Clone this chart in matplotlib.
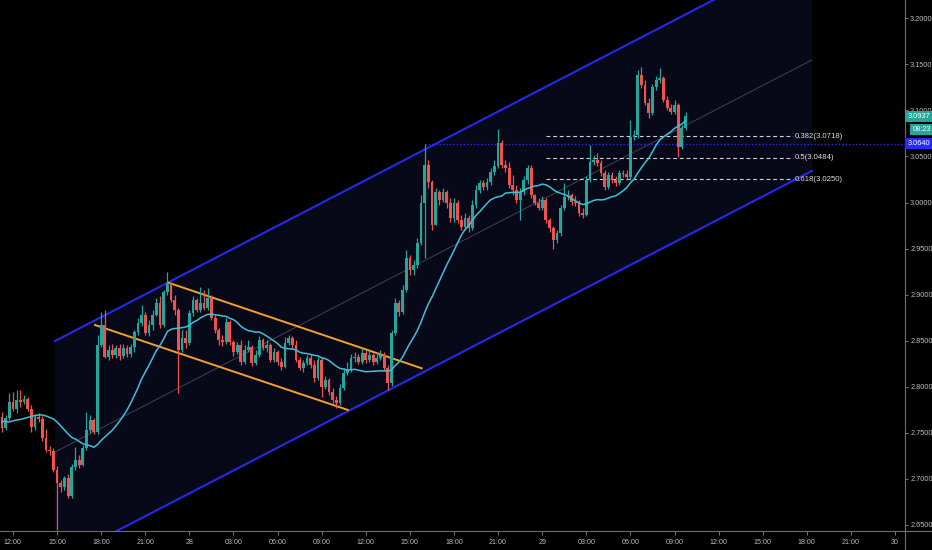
import numpy as np
import pandas as pd
import matplotlib
matplotlib.use("Agg")
import matplotlib.pyplot as plt
import matplotlib.transforms as mtransforms
from matplotlib.lines import Line2D
from matplotlib.ticker import FixedLocator, FuncFormatter

plt.rcParams['font.family'] = ['Liberation Sans Narrow', 'Liberation Sans', 'DejaVu Sans']

# ---------------- data (15-minute candles, hours counted from day 27 00:00) ----------------
bar_start_hour = 11.25
bar_step_hours = 0.25
first_open = 2.7671

closes = [
    2.7552, 2.7660, 2.7834, 2.7758, 2.7856, 2.7834, 2.7866, 2.7758, 2.7563, 2.7671,
    2.7650, 2.7443, 2.7313, 2.7302, 2.7096, 2.6955, 2.6911, 2.7009, 2.6813, 2.7128,
    2.7204, 2.7150, 2.7335, 2.7530, 2.7639, 2.7508, 2.8453, 2.8670, 2.8323, 2.8399,
    2.8344, 2.8421, 2.8334, 2.8421, 2.8355, 2.8431, 2.8594, 2.8692, 2.8779, 2.8583,
    2.8670, 2.8779, 2.8909, 2.8670, 2.9028, 2.9126, 2.8942, 2.8833, 2.8399, 2.8529,
    2.8475, 2.8800, 2.8942, 2.8833, 2.8909, 2.8855, 2.8963, 2.8746, 2.8616, 2.8507,
    2.8485, 2.8703, 2.8485, 2.8377, 2.8453, 2.8268, 2.8399, 2.8431, 2.8257, 2.8344,
    2.8507, 2.8421, 2.8453, 2.8290, 2.8377, 2.8268, 2.8214, 2.8475, 2.8529, 2.8453,
    2.8290, 2.8203, 2.8257, 2.8312, 2.8236, 2.8095, 2.8290, 2.7997, 2.8073, 2.7943,
    2.7856, 2.7823, 2.7986, 2.8149, 2.8181, 2.8312, 2.8323, 2.8268, 2.8366, 2.8290,
    2.8344, 2.8268, 2.8312, 2.8344, 2.8203, 2.8040, 2.8583, 2.8909, 2.8811, 2.9050,
    2.9398, 2.9267, 2.9322, 2.9561, 2.9995, 3.0407, 3.0223, 2.9756, 3.0114, 3.0027,
    3.0114, 2.9995, 2.9832, 2.9995, 2.9810, 2.9734, 2.9832, 2.9723, 2.9973, 3.0136,
    3.0212, 3.0169, 3.0223, 3.0331, 3.0397, 3.0646, 3.0407, 3.0375, 3.0190, 3.0136,
    3.0027, 3.0114, 3.0245, 3.0375, 3.0082, 2.9995, 2.9941, 3.0027, 2.9810, 2.9723,
    2.9593, 2.9669, 2.9941, 3.0060, 3.0082, 3.0006, 2.9995, 2.9886, 2.9865, 3.0245,
    3.0440, 3.0462, 3.0429, 3.0321, 3.0169, 3.0299, 3.0245, 3.0212, 3.0321, 3.0310,
    3.0277, 3.0712, 3.0733, 3.1385, 3.1276, 3.1081, 3.0972, 3.1254, 3.1330, 3.1352,
    3.1113, 3.1026, 3.0983, 3.1059, 3.0603, 3.0809, 3.0937,
]

highs = [
    2.7726, 2.7693, 2.7932, 2.7943, 2.7964, 2.7964, 2.7910, 2.7888, 2.7801, 2.7704,
    2.7715, 2.7682, 2.7541, 2.7357, 2.7335, 2.7139, 2.6987, 2.7031, 2.7052, 2.7161,
    2.7346, 2.7259, 2.7367, 2.7726, 2.7693, 2.7660, 2.8562, 2.8811, 2.8833, 2.8453,
    2.8464, 2.8453, 2.8464, 2.8464, 2.8453, 2.8464, 2.8616, 2.8746, 2.8887, 2.8811,
    2.8724, 2.8833, 2.8963, 2.8985, 2.9050, 2.9246, 2.9137, 2.8996, 2.8855, 2.8616,
    2.8616, 2.8833, 2.8985, 2.8963, 2.9083, 2.9050, 2.9072, 2.8996, 2.8779, 2.8638,
    2.8562, 2.8746, 2.8724, 2.8507, 2.8485, 2.8507, 2.8453, 2.8507, 2.8453, 2.8399,
    2.8551, 2.8529, 2.8507, 2.8475, 2.8421, 2.8399, 2.8312, 2.8540, 2.8562, 2.8551,
    2.8507, 2.8323, 2.8290, 2.8344, 2.8344, 2.8290, 2.8323, 2.8312, 2.8116, 2.8095,
    2.7986, 2.7899, 2.8030, 2.8203, 2.8268, 2.8355, 2.8377, 2.8355, 2.8421, 2.8399,
    2.8399, 2.8366, 2.8377, 2.8399, 2.8377, 2.8236, 2.8616, 2.8963, 2.8942, 2.9104,
    2.9484, 2.9430, 2.9376, 2.9615, 3.0082, 3.0640, 3.0462, 3.0245, 3.0158, 3.0136,
    3.0158, 3.0136, 3.0049, 3.0049, 3.0027, 2.9865, 2.9886, 2.9865, 3.0027, 3.0190,
    3.0245, 3.0245, 3.0266, 3.0375, 3.0462, 3.0798, 3.0679, 3.0462, 3.0440, 3.0299,
    3.0190, 3.0158, 3.0288, 3.0407, 3.0407, 3.0093, 3.0049, 3.0071, 3.0049, 2.9832,
    2.9745, 2.9702, 2.9973, 3.0212, 3.0136, 3.0103, 3.0071, 3.0027, 2.9941, 3.0288,
    3.0625, 3.0516, 3.0538, 3.0462, 3.0353, 3.0331, 3.0331, 3.0288, 3.0353, 3.0353,
    3.0353, 3.0896, 3.0787, 3.1439, 3.1475, 3.1330, 3.1135, 3.1287, 3.1374, 3.1461,
    3.1374, 3.1157, 3.1070, 3.1113, 3.1081, 3.0842, 3.0983,
]

lows = [
    2.7508, 2.7530, 2.7639, 2.7736, 2.7715, 2.7780, 2.7812, 2.7736, 2.7508, 2.7530,
    2.7617, 2.7411, 2.7291, 2.7259, 2.7074, 2.6444, 2.6857, 2.6879, 2.6792, 2.6792,
    2.7096, 2.7117, 2.7139, 2.7313, 2.7497, 2.7487, 2.7487, 2.8431, 2.8312, 2.8290,
    2.8312, 2.8312, 2.8290, 2.8312, 2.8323, 2.8323, 2.8377, 2.8562, 2.8659, 2.8562,
    2.8551, 2.8616, 2.8768, 2.8638, 2.8648, 2.8996, 2.8920, 2.8779, 2.7932, 2.8377,
    2.8421, 2.8453, 2.8768, 2.8811, 2.8811, 2.8833, 2.8833, 2.8724, 2.8583, 2.8453,
    2.8442, 2.8464, 2.8453, 2.8334, 2.8355, 2.8236, 2.8247, 2.8377, 2.8225, 2.8236,
    2.8323, 2.8399, 2.8377, 2.8268, 2.8268, 2.8236, 2.8181, 2.8203, 2.8453, 2.8421,
    2.8268, 2.8181, 2.8160, 2.8236, 2.8203, 2.8051, 2.8073, 2.7888, 2.7975, 2.7910,
    2.7823, 2.7769, 2.7801, 2.7964, 2.8127, 2.8160, 2.8268, 2.8247, 2.8247, 2.8257,
    2.8268, 2.8236, 2.8247, 2.8290, 2.8181, 2.7964, 2.8008, 2.8562, 2.8768, 2.8790,
    2.9028, 2.9213, 2.9213, 2.9289, 2.9539, 2.9398, 3.0158, 2.9702, 2.9756, 2.9973,
    3.0006, 2.9941, 2.9789, 2.9789, 2.9778, 2.9702, 2.9702, 2.9680, 2.9702, 2.9941,
    3.0103, 3.0136, 3.0136, 3.0190, 3.0299, 3.0375, 3.0375, 3.0331, 3.0158, 3.0082,
    2.9995, 2.9810, 3.0082, 3.0201, 3.0049, 2.9973, 2.9919, 2.9919, 2.9778, 2.9680,
    2.9492, 2.9561, 2.9637, 2.9919, 3.0027, 2.9973, 2.9962, 2.9854, 2.9832, 2.9854,
    3.0223, 3.0407, 3.0397, 3.0288, 3.0136, 3.0147, 3.0212, 3.0179, 3.0190, 3.0277,
    3.0245, 3.0245, 3.0679, 3.0701, 3.1244, 3.1059, 3.0918, 3.0950, 3.1222, 3.1298,
    3.1091, 3.1005, 3.0961, 3.0961, 3.0494, 3.0581, 3.0787,
]

# 20-period moving average values for the first 19 bars (history before the window)
ma_head = [2.7622, 2.7622, 2.7617, 2.7628, 2.7639, 2.7644, 2.7655, 2.7666, 2.7677, 2.7687,
           2.7693, 2.7693, 2.7682, 2.7666, 2.7650, 2.7617, 2.7574, 2.7530, 2.7487]
ma_period = 20

# drawing-tool anchors (hour, price)
channel_t = [14.857, 66.35]
channel_upper = [2.8496, 3.2753]
channel_lower = [2.6086, 3.0343]
orange_upper_t = [22.544, 39.80]
orange_upper_p = [2.9131, 2.8200]
orange_lower_t = [17.578, 34.789]
orange_lower_p = [2.8670, 2.7747]
fib_t = [48.26, 65.06]
fib_ratios = ["0.382", "0.5", "0.618"]
fib_prices = [3.0718, 3.0484, 3.0250]
hline_price = 3.0640
hline_start = 40.03
countdown = "08:23"

tick_hours = [12, 15, 18, 21, 24, 27, 30, 33, 36, 39, 42, 45, 48, 51, 54, 57, 60, 63, 66, 69, 72]
tick_labels = ["12:00", "15:00", "18:00", "21:00", "28", "03:00", "06:00", "09:00", "12:00",
               "15:00", "18:00", "21:00", "29", "03:00", "06:00", "09:00", "12:00", "15:00",
               "18:00", "21:00", "30"]
price_ticks = [2.65, 2.70, 2.75, 2.80, 2.85, 2.90, 2.95, 3.00, 3.05, 3.10, 3.15, 3.20]

# ---------------- derived ----------------
n = len(closes)
t = bar_start_hour + bar_step_hours * np.arange(n)
c = np.array(closes)
h = np.array(highs)
l = np.array(lows)
o = np.concatenate([[first_open], c[:-1]])
ma = pd.Series(c).rolling(ma_period).mean().to_numpy()
ma[:ma_period - 1] = ma_head
channel_mid = [(a + b) / 2 for a, b in zip(channel_upper, channel_lower)]

UP = '#26a69a'
DOWN = '#ef5350'
BG = '#000000'
TXT = '#bdbdbd'
YFS = 5.3
XFS = 5.1

W, H = 932, 550
fig = plt.figure(figsize=(W / 100, H / 100), dpi=100, facecolor=BG)
ax = fig.add_axes([0, 19 / H, 905 / W, 531 / H], facecolor=BG)
ax.set_xlim(11.116, 72.68)
ax.set_ylim(2.6433, 3.2199)

# regression-like channel
ax.fill_between(channel_t, channel_lower, channel_upper, color='#070818', lw=0, zorder=0)
ax.plot(channel_t, channel_upper, color='#2828ea', lw=1.5, zorder=2)
ax.plot(channel_t, channel_lower, color='#2828ea', lw=1.5, zorder=2)
ax.plot(channel_t, channel_mid, color='#4a4a5c', lw=0.6, zorder=1)

# orange descending channel
ax.plot(orange_upper_t, orange_upper_p, color='#f5a032', lw=1.4, zorder=2)
ax.plot(orange_lower_t, orange_lower_p, color='#f5a032', lw=1.4, zorder=2)

# fib levels
for r, p in zip(fib_ratios, fib_prices):
    ax.hlines(p, fib_t[0], fib_t[1], colors='#d0d0d0', linestyles=(0, (3.5, 2.5)), lw=0.8, zorder=2)
    ax.text(fib_t[1] + 0.15, p, f"{r}({p:.4f})", color='#dcdcdc', fontsize=5.6,
            va='center', ha='left', zorder=6)

# horizontal dotted line
ax.hlines(hline_price, hline_start, 72.68, colors='#2a2aff', linestyles=(0, (1, 1.5)), lw=1.0, zorder=2)

# candles
colors = np.where(c >= o, UP, DOWN)
ax.vlines(t, l, h, colors=colors, lw=0.9, zorder=3)
body_bottom = np.minimum(o, c)
body_h = np.maximum(np.abs(c - o), 0.0009)
ax.bar(t, body_h, bottom=body_bottom, width=0.19, color=colors, linewidth=0, zorder=4)

# moving average
ax.plot(t, ma, color='#3ec2d6', lw=1.1, zorder=5)

# axes styling
for s in ['left', 'top']:
    ax.spines[s].set_visible(False)
for s in ['right', 'bottom']:
    ax.spines[s].set_color('#6e6e6e')
    ax.spines[s].set_linewidth(0.8)
ax.yaxis.tick_right()
ax.yaxis.set_major_locator(FixedLocator(price_ticks))
ax.yaxis.set_major_formatter(FuncFormatter(lambda v, pos: f"{v:.4f}"))
ax.set_xticks(tick_hours)
ax.set_xticklabels(tick_labels)
ax.tick_params(axis='both', colors='#8a8a8a', labelcolor=TXT, length=3, width=0.6)
ax.tick_params(axis='y', pad=1.2, length=2.5, labelsize=YFS)
ax.tick_params(axis='x', pad=2.5, labelsize=XFS)

fig.add_artist(Line2D([905 / W, 1], [19 / H, 19 / H], color='#6e6e6e', lw=0.8))
fig.add_artist(Line2D([905 / W, 905 / W], [0, 19 / H], color='#6e6e6e', lw=0.8))

# price-axis labels
trans = mtransforms.blended_transform_factory(ax.transAxes, ax.transData)
last_price = closes[-1]
ax.text(1.0028, last_price, f"{last_price:.4f}", transform=trans, ha='left', va='center',
        fontsize=YFS, color='white', clip_on=False, zorder=10,
        bbox=dict(boxstyle='square,pad=0.3', fc=UP, ec='none'))
cd_trans = trans + mtransforms.ScaledTranslation(0, -13.5 / 100, fig.dpi_scale_trans)
ax.text(1.0085, last_price, countdown, transform=cd_trans, ha='left', va='center',
        fontsize=YFS, color='white', clip_on=False, zorder=10,
        bbox=dict(boxstyle='square,pad=0.3', fc=UP, ec='none'))
ax.text(1.0028, hline_price, f"{hline_price:.4f}", transform=trans, ha='left', va='center',
        fontsize=YFS, color='white', clip_on=False, zorder=10,
        bbox=dict(boxstyle='square,pad=0.3', fc='#2a2aff', ec='none'))

fig.savefig('out.png', dpi=100, facecolor=BG)
